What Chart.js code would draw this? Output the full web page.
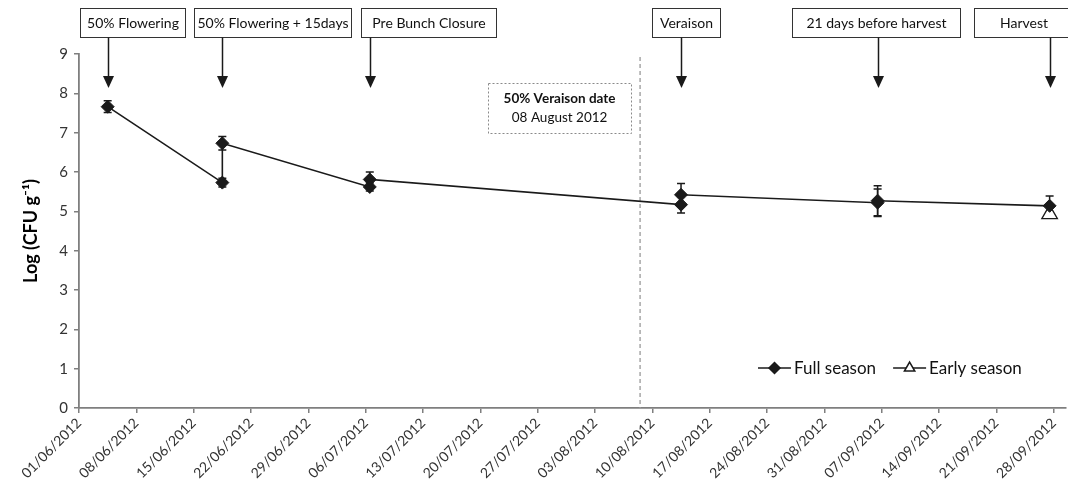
<!DOCTYPE html>
<html><head><meta charset="utf-8">
<script src="https://cdn.jsdelivr.net/npm/chart.js@4.4.1/dist/chart.umd.min.js"></script>
<style>html,body{margin:0;padding:0;background:#fff;}#wrap{width:1068px;height:490px;}</style>
</head><body><div id="wrap"><canvas id="c" width="1068" height="490"></canvas></div>
<script>
// ---- data ----
const tickDates = ['01/06/2012','08/06/2012','15/06/2012','22/06/2012','29/06/2012','06/07/2012','13/07/2012','20/07/2012','27/07/2012','03/08/2012','10/08/2012','17/08/2012','24/08/2012','31/08/2012','07/09/2012','14/09/2012','21/09/2012','28/09/2012'];
const axisStartDate = '01/06/2012';
const axisEndDate = '30/09/2012';
const yTicks = [0,1,2,3,4,5,6,7,8,9];
const yTitle = 'Log (CFU g\u207B\u00B9)';

const eventLabels = ['50% Flowering','50% Flowering + 15days','Pre Bunch Closure','Veraison','21 days before harvest','Harvest'];
const eventDates  = ['04/06/2012','18/06/2012','06/07/2012','13/08/2012','06/09/2012','27/09/2012'];

const veraisonDate = '08/08/2012';
const veraisonNote = ['50% Veraison date','08 August 2012'];

const fullLabel  = 'Full season';
const fullDates  = ['04/06/2012','18/06/2012','18/06/2012','06/07/2012','06/07/2012','13/08/2012','13/08/2012','06/09/2012','06/09/2012','27/09/2012'];
const fullValues = [7.66,5.73,6.73,5.62,5.81,5.17,5.42,5.22,5.27,5.14];
const fullErrors = [0.15,0.11,0.17,0.10,0.19,0.21,0.29,0.35,0.38,0.25];

const earlyLabel  = 'Early season';
const earlyDates  = ['27/09/2012'];
const earlyValues = [4.93];
const earlyErrors = [0.06];

// ---- helpers ----
function dayOf(s){const [d,m,y]=s.split('/').map(Number);const [d0,m0,y0]=axisStartDate.split('/').map(Number);return Math.round((Date.UTC(y,m-1,d)-Date.UTC(y0,m0-1,d0))/86400000);}
function center(s){return dayOf(s)+0.5;} // points sit in the middle of their day slot
const tickLabelByDay = {}; tickDates.forEach(t=>tickLabelByDay[dayOf(t)]=t);

const FONT = 'Lato, "Open Sans", sans-serif';
const INK = '#1a1a1a';

const annot = {
  id:'annot',
  beforeDatasetsDraw(chart){
    const {ctx, chartArea:ca, scales:{x,y}} = chart;
    const vx = x.getPixelForValue(center(veraisonDate));
    ctx.save();
    ctx.strokeStyle='#9a9a9a'; ctx.lineWidth=1.3; ctx.setLineDash([4,3]);
    ctx.beginPath(); ctx.moveTo(vx, ca.top+3); ctx.lineTo(vx, ca.bottom); ctx.stroke();
    ctx.setLineDash([]);
    ctx.strokeStyle=INK; ctx.lineWidth=1.5;
    chart.data.datasets.forEach((ds,di)=>{
      const meta = chart.getDatasetMeta(di);
      meta.data.forEach((pt,i)=>{
        const v = ds.data[i].y, e = ds.errors[i];
        const y1 = y.getPixelForValue(v+e), y2 = y.getPixelForValue(v-e);
        ctx.beginPath();
        ctx.moveTo(pt.x,y1); ctx.lineTo(pt.x,y2);
        ctx.moveTo(pt.x-4,y1); ctx.lineTo(pt.x+4,y1);
        ctx.moveTo(pt.x-4,y2); ctx.lineTo(pt.x+4,y2);
        ctx.stroke();
      });
    });
    ctx.restore();
  },
  afterDraw(chart){
    const {ctx, scales:{x}} = chart;
    ctx.save();
    // event boxes and arrows
    const boxLeft = [-29,-29,-10,-30,-87,-77];
    const boxW = [105,157,135,68,168,99];
    const boxTop = 8, boxBot = 37, tip = 88;
    ctx.font = '14px '+FONT; ctx.textAlign='center'; ctx.textBaseline='middle';
    eventLabels.forEach((lab,i)=>{
      const ax = Math.round(x.getPixelForValue(center(eventDates[i])))+0.5;
      const l = Math.round(ax+boxLeft[i])+0.5;
      ctx.fillStyle='#fff'; ctx.fillRect(l,boxTop,boxW[i],boxBot-boxTop);
      ctx.strokeStyle='#333'; ctx.lineWidth=1;
      ctx.strokeRect(l,boxTop+0.5,boxW[i],boxBot-boxTop);
      ctx.fillStyle='#111'; ctx.fillText(lab, l+boxW[i]/2, (boxTop+boxBot)/2+1);
      ctx.strokeStyle=INK; ctx.lineWidth=1.5;
      ctx.beginPath(); ctx.moveTo(ax,boxBot+0.5); ctx.lineTo(ax,tip-10); ctx.stroke();
      ctx.fillStyle=INK;
      ctx.beginPath(); ctx.moveTo(ax-5.5,tip-12); ctx.lineTo(ax+5.5,tip-12); ctx.lineTo(ax,tip); ctx.closePath(); ctx.fill();
    });
    // veraison note box
    const vx = x.getPixelForValue(center(veraisonDate));
    const nr = vx-9, nl = nr-143, nt = 83, nb = 133;
    ctx.strokeStyle='#8a8a8a'; ctx.lineWidth=1; ctx.setLineDash([2,2]);
    ctx.strokeRect(Math.round(nl)+0.5, nt+0.5, nr-nl, nb-nt);
    ctx.setLineDash([]);
    ctx.fillStyle='#111';
    ctx.font='bold 13.5px '+FONT; ctx.fillText(veraisonNote[0], (nl+nr)/2, 99);
    ctx.font='13.5px '+FONT; ctx.fillText(veraisonNote[1], (nl+nr)/2, 118);
    // legend
    const ly = 368;
    const items = chart.data.datasets.map(ds=>({label:ds.label, style:ds.pointStyle, bg:ds.pointBackgroundColor}));
    let lx = 758;
    ctx.font='17px '+FONT; ctx.textAlign='left';
    items.forEach((it)=>{
      ctx.strokeStyle=INK; ctx.lineWidth=1.5;
      ctx.beginPath(); ctx.moveTo(lx,ly); ctx.lineTo(lx+33,ly); ctx.stroke();
      ctx.fillStyle=it.bg;
      Chart.helpers.drawPoint(ctx,{pointStyle:it.style,radius:it.style==='triangle'?6:5.5,borderWidth:1.2,rotation:0},lx+16.5,ly);
      ctx.fillStyle='#111'; ctx.fillText(it.label, lx+36, ly+1);
      lx += 36 + ctx.measureText(it.label).width + 17;
    });
    ctx.restore();
  }
};

const toPts = (ds,vs)=>ds.map((d,i)=>({x:center(d), y:vs[i]}));

new Chart(document.getElementById('c'),{
  type:'line',
  data:{datasets:[
    {label:fullLabel, data:toPts(fullDates,fullValues), errors:fullErrors,
     borderColor:INK, borderWidth:1.6, pointStyle:'rectRot', pointRadius:6.5,
     pointBackgroundColor:INK, pointBorderColor:INK, pointBorderWidth:1, tension:0, fill:false},
    {label:earlyLabel, data:toPts(earlyDates,earlyValues), errors:earlyErrors,
     borderColor:INK, borderWidth:1.6, pointStyle:'triangle', pointRadius:9,
     pointBackgroundColor:'#ffffff', pointBorderColor:INK, pointBorderWidth:1.3, fill:false}
  ]},
  options:{
    responsive:false, animation:false,
    layout:{autoPadding:false, padding:{top:54,right:2,left:0,bottom:0}},
    plugins:{legend:{display:false}, tooltip:{enabled:false}},
    scales:{
      x:{type:'linear', min:0, max:dayOf(axisEndDate)-0.5,
        afterBuildTicks:s=>{s.ticks=tickDates.map(t=>({value:dayOf(t)}));},
        afterFit:s=>{s.height=82; s.paddingLeft=0; s.paddingRight=0;},
        ticks:{autoSkip:false, minRotation:45, maxRotation:45, color:'#333', font:{family:FONT,size:14}, padding:2,
          callback:v=>tickLabelByDay[v]||''},
        grid:{drawOnChartArea:false, drawTicks:true, tickLength:5, color:'#7f7f7f', lineWidth:1.5},
        border:{color:'#7f7f7f', width:1.8}},
      y:{min:0, max:9,
        afterBuildTicks:s=>{s.ticks=yTicks.map(v=>({value:v}));},
        afterFit:s=>{s.width=79; s.paddingTop=0; s.paddingBottom=0;},
        ticks:{color:'#333', font:{family:FONT,size:15}, padding:6},
        grid:{drawOnChartArea:false, drawTicks:true, tickLength:5, color:'#7f7f7f', lineWidth:1.5},
        border:{color:'#7f7f7f', width:1.8},
        title:{display:true, text:yTitle, color:'#000', font:{family:FONT,size:18,weight:'bold'}, padding:{top:20,bottom:0}}}
    }
  },
  plugins:[annot]
});
</script></body></html>
